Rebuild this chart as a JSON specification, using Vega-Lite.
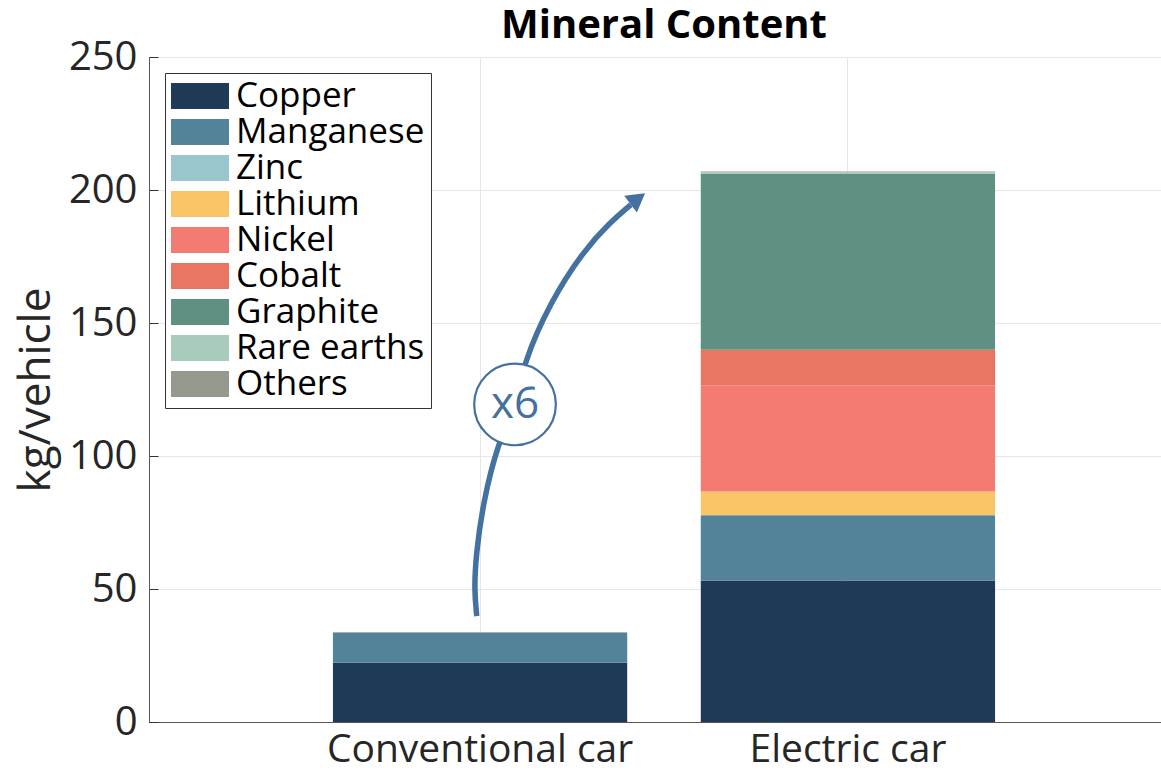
{
  "$schema": "https://vega.github.io/schema/vega-lite/v6.json",
  "width": 1030,
  "height": 665,
  "autosize": {"type": "none"},
  "padding": {"left": 149, "top": 57, "right": 0, "bottom": 48},
  "background": "white",
  "config": {
    "font": "Open Sans",
    "view": {"stroke": "#555", "strokeWidth": 1}
  },
  "title": {
    "text": "Mineral Content",
    "fontSize": 40,
    "fontWeight": "bold",
    "font": "Open Sans",
    "color": "#000",
    "anchor": "middle",
    "offset": -9
  },
  "datasets": {
    "minerals": [
      {"vehicle": "Conventional car", "mineral": "Copper", "rank": 1, "kg": 22.3},
      {"vehicle": "Conventional car", "mineral": "Manganese", "rank": 2, "kg": 11.2},
      {"vehicle": "Conventional car", "mineral": "Others", "rank": 9, "kg": 0.2},
      {"vehicle": "Electric car", "mineral": "Copper", "rank": 1, "kg": 53.2},
      {"vehicle": "Electric car", "mineral": "Manganese", "rank": 2, "kg": 24.5},
      {"vehicle": "Electric car", "mineral": "Zinc", "rank": 3, "kg": 0.1},
      {"vehicle": "Electric car", "mineral": "Lithium", "rank": 4, "kg": 8.9},
      {"vehicle": "Electric car", "mineral": "Nickel", "rank": 5, "kg": 39.9},
      {"vehicle": "Electric car", "mineral": "Cobalt", "rank": 6, "kg": 13.3},
      {"vehicle": "Electric car", "mineral": "Graphite", "rank": 7, "kg": 66.3},
      {"vehicle": "Electric car", "mineral": "Rare earths", "rank": 8, "kg": 0.5},
      {"vehicle": "Electric car", "mineral": "Others", "rank": 9, "kg": 0.3}
    ],
    "arrow": [
      {"i": 0, "x": 0.991, "y": 39.8},
      {"i": 1, "x": 0.984, "y": 49.8},
      {"i": 2, "x": 0.989, "y": 63.0},
      {"i": 3, "x": 1.008, "y": 82.5},
      {"i": 4, "x": 1.049, "y": 105.1},
      {"i": 5, "x": 1.098, "y": 119.8},
      {"i": 6, "x": 1.117, "y": 134.4},
      {"i": 7, "x": 1.190, "y": 157.7},
      {"i": 8, "x": 1.280, "y": 176.9},
      {"i": 9, "x": 1.353, "y": 187.8},
      {"i": 10, "x": 1.410, "y": 194.5}
    ],
    "arrowhead": [{"x": 1.4288, "y": 196.7}],
    "badge": [{"x": 1.095, "y": 119.4, "label": "x6"}]
  },
  "layer": [
    {
      "data": {"name": "minerals"},
      "mark": {"type": "bar"},
      "encoding": {
        "x": {
          "field": "vehicle",
          "type": "nominal",
          "sort": ["Conventional car", "Electric car"],
          "scale": {"paddingInner": 0.2, "paddingOuter": 0.5},
          "axis": {
            "title": null,
            "labelAngle": 0,
            "labelFontSize": 39,
            "labelFont": "Open Sans",
            "labelColor": "#262626",
            "labelPadding": 17,
            "labelLimit": 0,
            "grid": true,
            "gridColor": "#e6e6e6",
            "domainColor": "#555",
            "tickColor": "#333",
            "tickSize": -9
          }
        },
        "y": {
          "field": "kg",
          "type": "quantitative",
          "stack": "zero",
          "title": "kg/vehicle",
          "scale": {"domain": [0, 250], "nice": false},
          "axis": {
            "values": [0, 50, 100, 150, 200, 250],
            "labelFontSize": 40,
            "labelFont": "Open Sans",
            "labelColor": "#262626",
            "labelPadding": 21,
            "titleFontSize": 44,
            "titleFont": "Open Sans",
            "titleFontWeight": "normal",
            "titleColor": "#262626",
            "titlePadding": 10,
            "grid": true,
            "gridColor": "#e6e6e6",
            "domainColor": "#555",
            "tickColor": "#333",
            "tickSize": -9
          }
        },
        "color": {
          "field": "mineral",
          "type": "nominal",
          "scale": {
            "domain": ["Copper", "Manganese", "Zinc", "Lithium", "Nickel", "Cobalt", "Graphite", "Rare earths", "Others"],
            "range": ["#1f3a56", "#528399", "#98c6cc", "#fbc567", "#f37b72", "#e87663", "#5f9183", "#a8cbbc", "#939a8d"]
          },
          "legend": {
            "title": null,
            "orient": "none",
            "legendX": 16,
            "legendY": 16,
            "symbolType": "M-1,-0.45H1V0.45H-1Z",
            "symbolSize": 3364,
            "symbolStrokeWidth": 0,
            "symbolOpacity": 1,
            "labelFontSize": 35,
            "labelFont": "Open Sans",
            "labelColor": "#000",
            "labelLimit": 400,
            "labelOffset": 7,
            "clipHeight": 34,
            "rowPadding": 1,
            "strokeColor": "#333",
            "fillColor": "white",
            "padding": 6
          }
        },
        "order": {"field": "rank", "type": "quantitative"}
      }
    },
    {
      "data": {"name": "arrow"},
      "mark": {"type": "line", "interpolate": "basis", "strokeWidth": 5.5, "color": "#44719f", "strokeCap": "butt"},
      "encoding": {
        "x": {"field": "x", "type": "quantitative", "scale": {"domain": [0.1, 2.9], "nice": false, "zero": false}, "axis": null},
        "y": {"field": "y", "type": "quantitative", "title": "kg/vehicle"},
        "order": {"field": "i", "type": "quantitative"}
      }
    },
    {
      "data": {"name": "arrowhead"},
      "mark": {"type": "point", "shape": "triangle-up", "size": 440, "angle": 53, "filled": true, "color": "#44719f", "opacity": 1},
      "encoding": {
        "x": {"field": "x", "type": "quantitative", "scale": {"domain": [0.1, 2.9], "nice": false, "zero": false}, "axis": null},
        "y": {"field": "y", "type": "quantitative", "title": "kg/vehicle"}
      }
    },
    {
      "data": {"name": "badge"},
      "mark": {"type": "point", "shape": "circle", "size": 6670, "filled": true, "fill": "white", "stroke": "#44719f", "strokeWidth": 2.2, "opacity": 1},
      "encoding": {
        "x": {"field": "x", "type": "quantitative", "scale": {"domain": [0.1, 2.9], "nice": false, "zero": false}, "axis": null},
        "y": {"field": "y", "type": "quantitative", "title": "kg/vehicle"}
      }
    },
    {
      "data": {"name": "badge"},
      "mark": {"type": "text", "fontSize": 44, "font": "Open Sans", "fontWeight": "normal", "color": "#44719f", "align": "center", "baseline": "middle", "dy": 1},
      "encoding": {
        "x": {"field": "x", "type": "quantitative", "scale": {"domain": [0.1, 2.9], "nice": false, "zero": false}, "axis": null},
        "y": {"field": "y", "type": "quantitative", "title": "kg/vehicle"},
        "text": {"field": "label", "type": "nominal"}
      }
    }
  ],
  "resolve": {"scale": {"x": "independent"}}
}
